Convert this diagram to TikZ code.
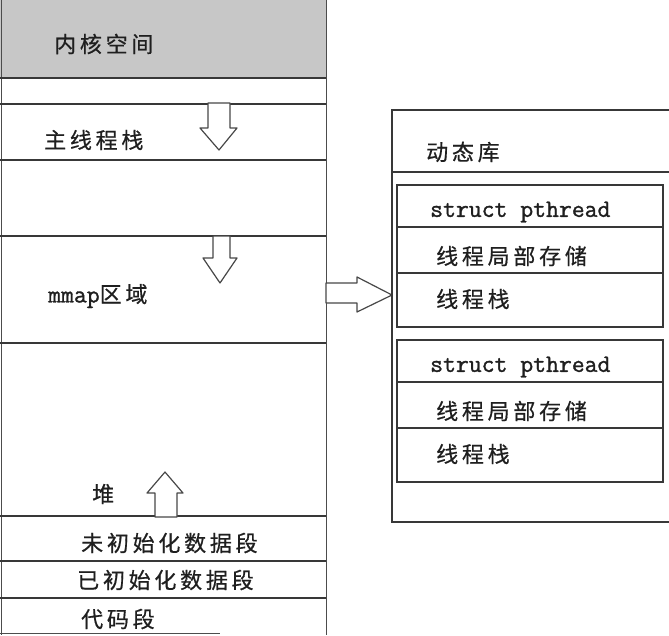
\documentclass[tikz,border=0pt]{standalone}
\usepackage{fontspec}
\newfontfamily\cjk[LetterSpace=17,FakeBold=0.6]{Noto Sans CJK SC}
\newfontfamily\codefont[FakeBold=1.2]{Latin Modern Mono}

\tikzset{
  seg/.style={line width=1.4pt, draw=black!78},
  edge/.style={line width=0.9pt, draw=black!70},
  lbl/.style={anchor=west, inner sep=0pt, font=\cjk\fontsize{22}{22}\selectfont, text=black!88},
  code/.style={anchor=west, inner sep=0pt, font=\codefont\fontsize{25}{25}\selectfont, text=black!88},
  hollow/.style={draw=black!72, line width=1.2pt, fill=white, line join=round},
}

\begin{document}
\begin{tikzpicture}[x=1pt,y=-1pt]
\useasboundingbox (0,0) rectangle (669,635);

%kernel space
\fill [black!22] (0,0) rectangle (326,78) ;

%left column edges
\draw [edge] (1,0) -- (1,635) ;
\draw [edge] (326,0) -- (326,635) ;

%left column segments
\draw [seg] (0,78) -- (326,78) ;
\draw [seg] (0,104) -- (326,104) ;
\draw [seg] (0,160) -- (326,160) ;
\draw [seg] (0,236) -- (326,236) ;
\draw [seg] (0,343) -- (326,343) ;
\draw [seg] (0,516) -- (326,516) ;
\draw [seg] (0,561) -- (326,561) ;
\draw [seg] (0,598) -- (326,598) ;
\draw [edge] (0,633) -- (220,633) ;

%left column labels
\node [lbl] (kernel) at (54,44) {内核空间} ;
\node [lbl] (mainstack) at (44,140) {主线程栈} ;
\node [lbl] (mmap) at (48,296) {{\codefont\fontsize{25}{25}\selectfont mmap}区域} ;
\node [lbl] (heap) at (92,494) {堆} ;
\node [lbl] (bss) at (81,543) {未初始化数据段} ;
\node [lbl] (data) at (77,580) {已初始化数据段} ;
\node [lbl] (text) at (81,619) {代码段} ;

%growth arrows
\draw [hollow] (208,103) -- (230,103) -- (230,128) -- (237,128) -- (219,150) -- (200,128) -- (208,128) -- cycle ;
\draw [hollow] (213,236) -- (230,236) -- (230,258) -- (237,258) -- (220,283) -- (203,258) -- (213,258) -- cycle ;
\draw [hollow] (155,517) -- (177,517) -- (177,493) -- (183,493) -- (165,472) -- (147,493) -- (155,493) -- cycle ;

%arrow to the shared library
\draw [hollow] (326,283) -- (357,283) -- (357,277) -- (392,295) -- (357,312) -- (357,303) -- (326,303) -- cycle ;

%shared library
\draw [seg] (669,110) -- (392,110) -- (392,522) -- (669,522) ;
\draw [seg] (392,172) -- (669,172) ;
\node [lbl] (dynlib) at (426,152) {动态库} ;

%first thread
\draw [seg] (397,185) rectangle (663,327) ;
\draw [seg] (397,227) -- (663,227) ;
\draw [seg] (397,273) -- (663,273) ;

%first thread labels
\node [code] (pthreadA) at (430,212) {struct pthread} ;
\node [lbl] (tlsA) at (436,256) {线程局部存储} ;
\node [lbl] (stackA) at (436,299) {线程栈} ;

%second thread
\draw [seg,shift={(0,155)}] (397,185) rectangle (663,327) ;
\draw [seg,shift={(0,155)}] (397,227) -- (663,227) ;
\draw [seg,shift={(0,155)}] (397,273) -- (663,273) ;

%second thread labels
\node [code,shift={(0,155)}] (pthreadB) at (430,212) {struct pthread} ;
\node [lbl,shift={(0,155)}] (tlsB) at (436,256) {线程局部存储} ;
\node [lbl,shift={(0,155)}] (stackB) at (436,299) {线程栈} ;

\end{tikzpicture}
\end{document}
